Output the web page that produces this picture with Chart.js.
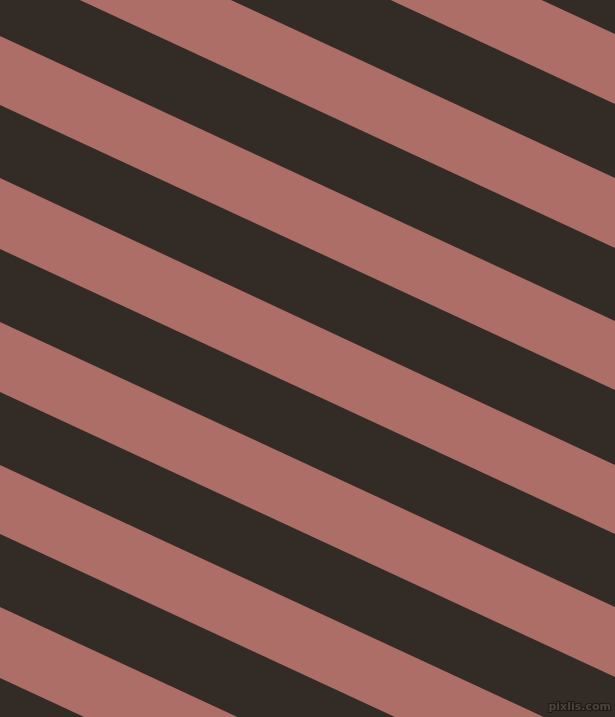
<!DOCTYPE html>
<html>
<head>
<meta charset="utf-8">
<script src="https://cdn.jsdelivr.net/npm/chart.js@4"></script>
<style>
  html, body { margin: 0; padding: 0; background: #332b25; }
  #stripes { display: block; }
</style>
</head>
<body>
<canvas id="stripes" width="615" height="717"></canvas>
<script>
// stripe boundaries, read where each edge line meets the left (x=0) and right (x=615) side
// values outside 0..717 are extrapolated from where the line meets the top/bottom edge
const leftEdgeY  = [-251, -181, -107, -37, 36, 105, 178, 249, 322, 392, 465, 534, 607, 678]
const rightEdgeY = [34, 104, 178, 248, 321, 390, 465, 534, 607, 677, 750, 819, 892, 963]
const edgeX = [0, 615]

const darkColor = '#332b25'
const pinkColor = '#ad6e68'

;(function() {
    const box = document.getElementById('stripes')

    // one dataset per boundary line, every other one fills down to the next
    const datasets = leftEdgeY.map((y0, i) => ({
        data: [{ x: edgeX[0], y: y0 }, { x: edgeX[1], y: rightEdgeY[i] }],
        borderWidth: 0,
        pointRadius: 0,
        tension: 0,
        backgroundColor: pinkColor,
        fill: i % 2 === 0 ? '+1' : false
    }))

    // background + watermark
    const backdrop = {
        id: 'backdrop',
        beforeDraw(chart) {
            const { ctx, width, height } = chart
            ctx.save()
            ctx.fillStyle = darkColor
            ctx.fillRect(0, 0, width, height)
            ctx.restore()
        },
        afterDraw(chart) {
            const { ctx } = chart
            ctx.save()
            ctx.font = 'bold 11px "DejaVu Sans"'
            ctx.textAlign = 'right'
            ctx.lineWidth = 2
            ctx.strokeStyle = '#1e1915'
            ctx.strokeText('pixlis.com', 611, 710)
            ctx.fillStyle = '#4d443d'
            ctx.fillText('pixlis.com', 611, 710)
            ctx.restore()
        }
    }

    const config = {
        type: 'line',
        data: { datasets },
        options: {
            responsive: false,
            animation: false,
            devicePixelRatio: 1,
            layout: { padding: 0 },
            scales: {
                x: { type: 'linear', min: 0, max: 615, display: false },
                y: { type: 'linear', min: 0, max: 717, reverse: true, display: false }
            },
            plugins: {
                legend: { display: false },
                tooltip: { enabled: false }
            }
        },
        plugins: [backdrop]
    }

    new Chart(box, config)
})()
</script>
</body>
</html>
